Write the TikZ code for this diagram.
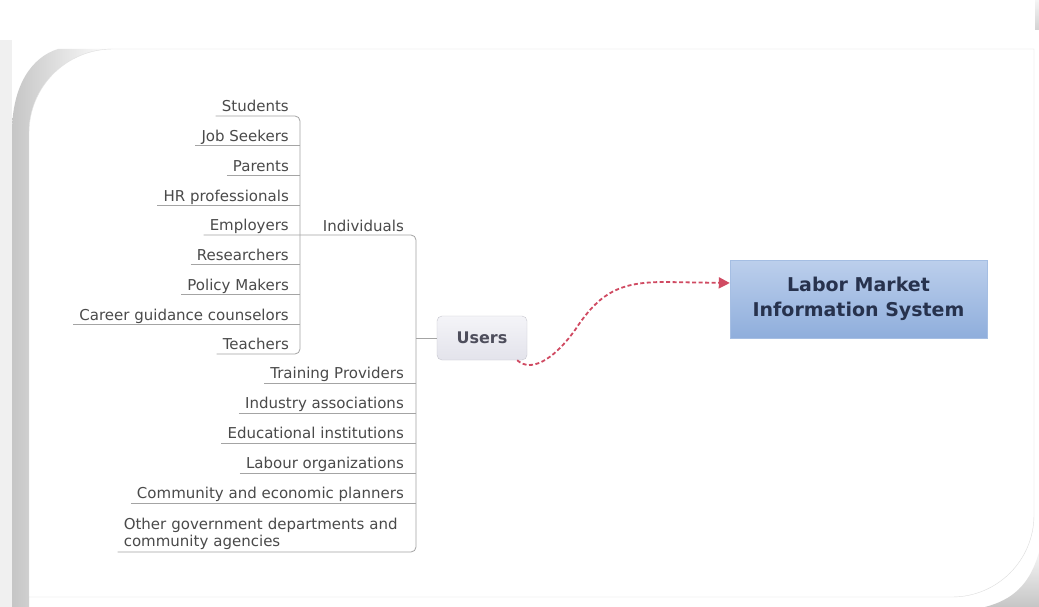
\documentclass[tikz,border=0pt]{standalone}
\usepackage{fontspec}
\setmainfont{DejaVu Sans}
\usepackage{tikz}
\usetikzlibrary{arrows.meta}

\definecolor{leafText}{HTML}{4A4A4A}
\definecolor{branchGray}{HTML}{A4A4A4}
\definecolor{frameGray}{HTML}{DCDCDC}
\definecolor{usersTop}{HTML}{F4F4F8}
\definecolor{usersBottom}{HTML}{E3E3EB}
\definecolor{usersBorder}{HTML}{C6C6CE}
\definecolor{usersText}{HTML}{4E4E5C}
\definecolor{lmisTop}{HTML}{BCCFEC}
\definecolor{lmisBottom}{HTML}{8FAEDC}
\definecolor{lmisText}{HTML}{27324D}
\definecolor{linkRed}{HTML}{D04A62}

\tikzset{
     leafNode/.style =
        { anchor=south east
        , inner xsep=6pt
        , inner ysep=1pt
        , text height=11pt
        , text depth=3pt
        , text=leafText
        , font=\fontsize{15}{18}\selectfont
        }
   , multiNode/.style =
        { anchor=south east
        , inner xsep=6pt
        , inner ysep=2pt
        , text width=280pt
        , align=left
        , text=leafText
        , font=\fontsize{15}{17.5}\selectfont
        }
   , usersNode/.style =
        { rounded corners=5pt
        , draw=usersBorder
        , top color=usersTop
        , bottom color=usersBottom
        , minimum width=90pt
        , minimum height=44pt
        , text=usersText
        , font=\bfseries\fontsize{16}{19}\selectfont
        }
   , lmisNode/.style =
        { draw=lmisBottom!80!white
        , top color=lmisTop
        , bottom color=lmisBottom
        , minimum width=257pt
        , minimum height=78pt
        , align=center
        , text=lmisText
        , font=\bfseries\fontsize{19}{25}\selectfont
        }
   , branchLine/.style =
        { draw=branchGray
        , line width=0.8pt
        , rounded corners=5pt
        }
}

\begin{document}
\begin{tikzpicture}
            [ x=1pt
            , y=-1pt
            , link/.style={linkRed, line width=1.8pt, dash pattern=on 4pt off 2.5pt}
            ]
            \useasboundingbox[fill=white] (0,0) rectangle (1039,607);

            % paper shadow and sheet
            \fill[gray!12] (0,40) rectangle (12,607);
            \shade[left color=gray!45, right color=white]
                (12,133) .. controls (12,85) and (32,57) .. (58,49)
                -- (113,49) .. controls (66.4,49) and (29,86.6) .. (29,133)
                -- (29,607) -- (12,607) -- cycle;
            \shade[top color=gray!8, bottom color=gray!45]
                (1039,552) .. controls (1030,585) and (1012,600) .. (985,607)
                -- (1039,607) -- cycle;
            \shade[top color=gray!8, bottom color=gray!35] (1035,0) rectangle (1039,30);
            \draw[frameGray, fill=white]
                (29,133) .. controls (29,86.6) and (66.4,49) .. (113,49)
                -- (1034,49) -- (1034,515)
                .. controls (1034,560.3) and (997.3,597) .. (952,597)
                -- (29,597) -- cycle;

            \coordinate (brk1) at (300,0);
            \coordinate (brk2) at (416,0);

            % individuals
            \node[leafNode] (students) at (295,116) {Students};
            \node[leafNode] (seekers) at ([yshift=-29.75pt]students.south east) {Job Seekers};
            \node[leafNode] (parents) at ([yshift=-29.75pt]seekers.south east) {Parents};
            \node[leafNode] (hr) at ([yshift=-29.75pt]parents.south east) {HR professionals};
            \node[leafNode] (employers) at ([yshift=-29.75pt]hr.south east) {Employers};
            \node[leafNode] (researchers) at ([yshift=-29.75pt]employers.south east) {Researchers};
            \node[leafNode] (policy) at ([yshift=-29.75pt]researchers.south east) {Policy Makers};
            \node[leafNode] (career) at ([yshift=-29.75pt]policy.south east) {Career guidance counselors};
            \node[leafNode] (teachers) at ([yshift=-29.75pt]career.south east) {Teachers};

            % users
            \node[leafNode] (individuals) at (410,236) {Individuals};
            \node[leafNode] (training) at (410,383) {Training Providers};
            \node[leafNode] (industry) at ([yshift=-30pt]training.south east) {Industry associations};
            \node[leafNode] (education) at ([yshift=-30pt]industry.south east) {Educational institutions};
            \node[leafNode] (labour) at ([yshift=-30pt]education.south east) {Labour organizations};
            \node[leafNode] (planners) at ([yshift=-30pt]labour.south east) {Community and economic planners};
            \node[multiNode] (other) at (410,552) {Other government departments and\\community agencies};

            \node[usersNode] (users) at (482,338) {Users};
            \node[lmisNode] (lmis) at (858.5,299) {Labor Market\\Information System};

            \draw[branchLine] (students.south west) -| (teachers.south -| brk1) -- (teachers.south west);
            \draw[branchLine] (seekers.south west) -- (seekers.south -| brk1);
            \draw[branchLine] (parents.south west) -- (parents.south -| brk1);
            \draw[branchLine] (hr.south west) -- (hr.south -| brk1);
            \draw[branchLine] (researchers.south west) -- (researchers.south -| brk1);
            \draw[branchLine] (policy.south west) -- (policy.south -| brk1);
            \draw[branchLine] (career.south west) -- (career.south -| brk1);

            \draw[branchLine] (employers.south west) -| (other.south -| brk2) -- (other.south west);
            \draw[branchLine] (training.south west) -- (training.south -| brk2);
            \draw[branchLine] (industry.south west) -- (industry.south -| brk2);
            \draw[branchLine] (education.south west) -- (education.south -| brk2);
            \draw[branchLine] (labour.south west) -- (labour.south -| brk2);
            \draw[branchLine] (planners.south west) -- (planners.south -| brk2);
            \draw[branchLine] (users.west -| brk2) -- (users.west);

            \draw[link, -{Triangle[length=11pt, width=11pt]}]
                ([xshift=-10pt]users.south east)
                .. controls (530,372) and (552,362) .. (575,330)
                .. controls (600,292) and (620,282) .. (665,282)
                -- ([yshift=16pt]lmis.west);
        \end{tikzpicture}
\end{document}
